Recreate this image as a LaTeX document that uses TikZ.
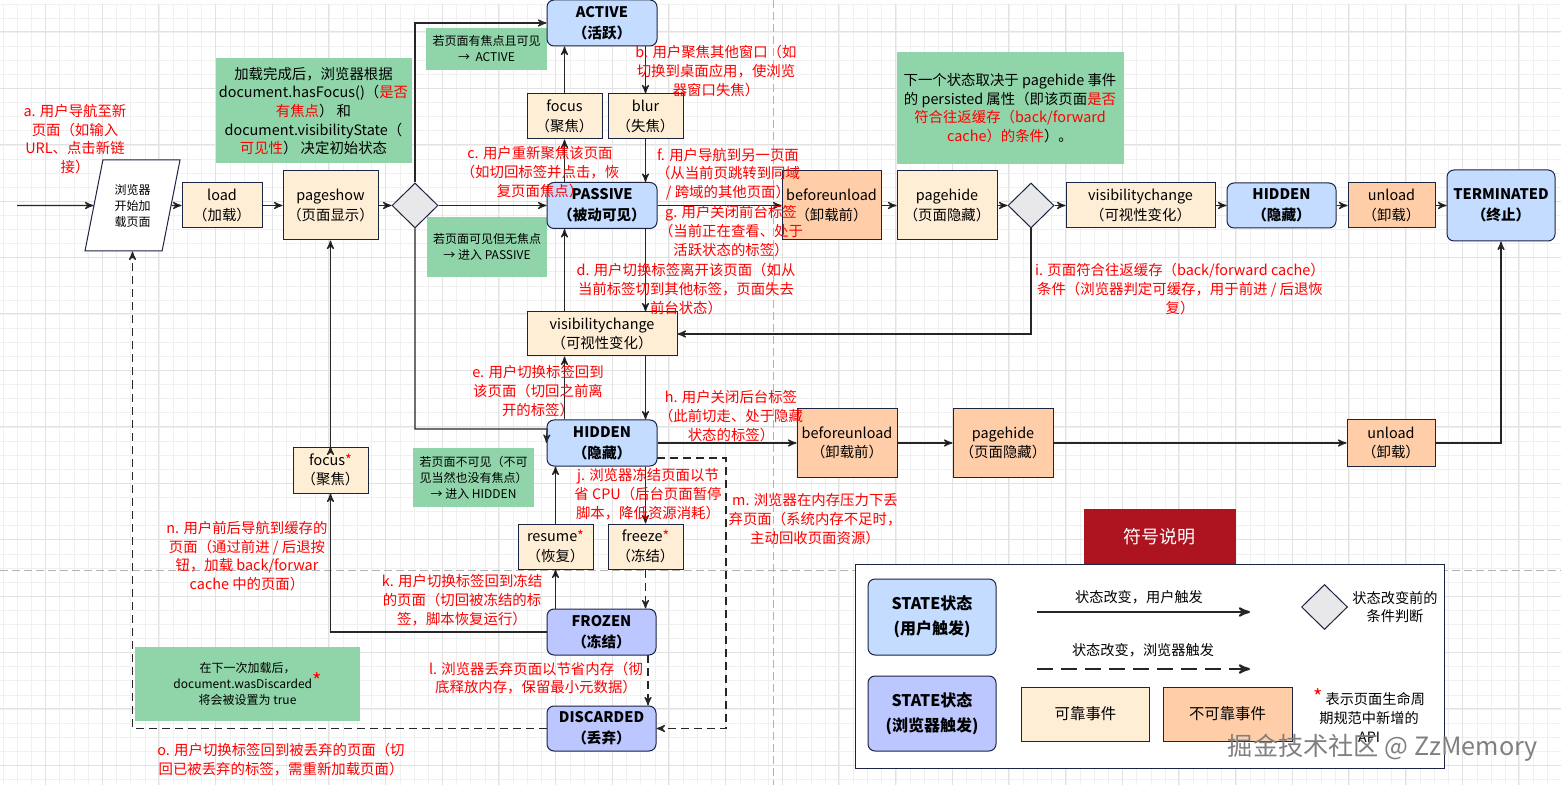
\documentclass[tikz,border=0pt]{standalone}
\usepackage{fontspec}
\setmainfont{Noto Sans CJK SC}
\usetikzlibrary{shapes.geometric}
\usetikzlibrary{positioning}
\usetikzlibrary{arrows}
\definecolor{userblue}{HTML}{C3DCFF}
\definecolor{browserblue}{HTML}{BCC6FF}
\definecolor{safefill}{HTML}{FFEED6}
\definecolor{riskfill}{HTML}{FFCEA8}
\definecolor{notegreen}{HTML}{8FD5A9}
\definecolor{diamondgray}{HTML}{E8E8EA}
\definecolor{edgenavy}{HTML}{1B2440}
\definecolor{titlered}{HTML}{AD1420}
\definecolor{gridmajor}{HTML}{E2E2E2}
\definecolor{gridminor}{HTML}{F0F0F0}
\newcommand{\redstar}{\smash{\color{red}\fontsize{10}{10}\selectfont*}}

\begin{document}
\begin{tikzpicture}[x=0.5pt,y=-0.5pt,>=stealth',every node/.style={inner sep=0pt,align=center},
	box size/.style 2 args={minimum width=#1*0.5pt,minimum height=#2*0.5pt},
	text size/.style={font=\fontsize{7.2}{9.35}\selectfont},
	box text/.style={font=\fontsize{7.2}{9.7}\selectfont},
	small size/.style={font=\fontsize{6}{8}\selectfont},
	key size/.style={font=\fontsize{7.1}{9.3}\selectfont},
	state node/.style={draw=edgenavy,line width=0.5pt,rounded corners=3.5pt,font=\fontsize{7.3}{10.4}\selectfont\bfseries},
	user state/.style={state node,fill=userblue},
	browser state/.style={state node,fill=browserblue},
	event node/.style={draw=edgenavy,line width=0.5pt,fill=safefill,box text},
	risk node/.style={draw=edgenavy,line width=0.5pt,fill=riskfill,box text},
	check node/.style={diamond,aspect=1,draw=edgenavy,line width=0.5pt,fill=diamondgray,box size={46}{45}},
	note node/.style={fill=notegreen,text size},
	red label/.style={text=red,text size},
	flow/.style={->,line width=0.6pt,draw=black!85},
	flow dash/.style={flow,dash pattern=on 4pt off 2.5pt}]

	\useasboundingbox (0,0) rectangle (1561,785);
	\fill[white] (0,0) rectangle (1561,785);

	% grid
	\foreach \x in {0,...,110}
		\draw[gridminor,line width=0.4pt] (3.2+\x*14.17,4) -- (3.2+\x*14.17,785);
	\foreach \y in {0,...,55}
		\draw[gridminor,line width=0.4pt] (0,4+\y*14.1) -- (1561,4+\y*14.1);
	\foreach \x in {0,...,27}
		\draw[gridmajor,line width=0.5pt] (45.5+\x*56.67,4) -- (45.5+\x*56.67,785);
	\foreach \y in {0,...,13}
		\draw[gridmajor,line width=0.5pt] (0,32+\y*56.4) -- (1561,32+\y*56.4);
	\draw[black!30,line width=0.5pt,dash pattern=on 4pt off 2pt] (773,0) -- (773,785);
	\draw[black!30,line width=0.5pt,dash pattern=on 4pt off 2pt] (0,570) -- (1561,570);

	% green notes
	\node[note node,box size={196}{105}] (note load) at (313.5,111) {加载完成后，浏览器根据\\document.hasFocus()（{\color{red}是否}\\{\color{red}有焦点}） 和\\document.visibilityState（\\{\color{red}可见性}） 决定初始状态};
	\node[note node,small size,box size={121}{42}] (note active) at (486.5,49) {若页面有焦点且可见\\→\ \ ACTIVE};
	\node[note node,small size,box size={120}{60}] (note passive) at (487,247) {若页面可见但无焦点\\→ 进入 PASSIVE};
	\node[note node,small size,box size={121}{59}] (note hidden) at (473.5,477.5) {若页面不可见（不可\\见当然也没有焦点）\\→ 进入 HIDDEN};
	\node[note node,small size,box size={225}{74}] (note discard) at (247.5,684) {在下一次加载后，\\document.wasDiscarded\redstar\\将会被设置为 true};
	\node[note node,box size={227}{112}] (note persist) at (1010,108) {下一个状态取决于 pagehide 事件\\的 persisted 属性（即该页面{\color{red}是否}\\{\color{red}符合往返缓存（back/forward}\\{\color{red}cache）的条件}）。};

	% main row
	\coordinate (entry) at (17,205.5);
	\node[trapezium,trapezium left angle=75.8,trapezium right angle=104.2,trapezium stretches=true,draw=edgenavy,line width=0.5pt,fill=white,small size,box size={95}{91}] (start) at (132.5,205.5) {浏览器\\开始加\\载页面};
	\node[event node,box size={80}{45}] (load) at (222,205.5) {load\\（加载）};
	\node[event node,box size={95}{69}] (pageshow) at (330.5,205.5) {pageshow\\（页面显示）};
	\node[check node] (check a) at (415,205.5) {};
	\node[user state,box size={110}{46}] (passive) at (602,205.5) {PASSIVE\\（被动可见）};
	\node[risk node,box size={99}{69}] (unloadfirst) at (831.5,205.5) {beforeunload\\（卸载前）};
	\node[event node,box size={100}{69}] (pagehide) [right of=unloadfirst,node distance=57.75pt] {pagehide\\（页面隐藏）};
	\node[check node] (check b) at (1031,205.5) {};
	\node[event node,box size={149}{45}] (visright) at (1140.5,205.5) {visibilitychange\\（可视性变化）};
	\node[user state,box size={109}{45}] (hiddenright) at (1281.5,205.5) {HIDDEN\\（隐藏）};
	\node[risk node,box size={87}{45}] (unload) at (1391.5,205.5) {unload\\（卸载）};
	\node[user state,box size={108}{71}] (terminated) at (1501,205.5) {TERMINATED\\（终止）};

	% centre column
	\node[user state,box size={110}{46}] (active) at (602,23) {ACTIVE\\（活跃）};
	\node[event node,box size={75}{45}] (focus) at (564.5,116.5) {focus\\（聚焦）};
	\node[event node,box size={75}{45}] (blur) at (645.5,116.5) {blur\\（失焦）};
	\node[event node,box size={150}{44}] (visible) at (602,334) {visibilitychange\\（可视性变化）};
	\node[user state,box size={110}{46}] (hidden) at (602,443) {HIDDEN\\（隐藏）};
	\node[event node,box size={75}{46}] (focusback) at (330.5,470) {focus{\color{red}*}\\（聚焦）};
	\node[risk node,box size={100}{68}] (unloadsecond) at (847,443) {beforeunload\\（卸载前）};
	\node[risk node,box size={100}{68}] (pagehidelow) [right of=unloadsecond,node distance=78pt] {pagehide\\（页面隐藏）};
	\node[risk node,box size={88}{46}] (unloadlow) at (1391,443) {unload\\（卸载）};
	\node[event node,box size={75}{45}] (resume) at (555.5,546.5) {resume{\color{red}*}\\（恢复）};
	\node[event node,box size={75}{45}] (freeze) at (645.5,546.5) {freeze{\color{red}*}\\（冻结）};
	\node[browser state,box size={109}{46}] (frozen) at (601.5,632) {FROZEN\\（冻结）};
	\node[browser state,box size={109}{45}] (discarded) at (601.5,728.5) {DISCARDED\\（丢弃）};

	% connectors
	\path[flow]
	(entry) edge (start)
	(start) edge (load)
	(load) edge (pageshow)
	(pageshow) edge (check a)
	(check a) edge (passive)
	(passive) edge (unloadfirst)
	(unloadfirst) edge (pagehide)
	(pagehide) edge (check b)
	(check b) edge (visright)
	(visright) edge (hiddenright)
	(hiddenright) edge (unload)
	(unload) edge (terminated)
	(hidden) edge (unloadsecond)
	(unloadsecond) edge (pagehidelow)
	(pagehidelow) edge (unloadlow)
	(focus.north) edge (focus.north |- active.south)
	(blur.north |- active.south) edge (blur.north)
	(focus.south |- passive.north) edge (focus.south)
	(blur.south) edge (blur.south |- passive.north)
	(blur.south |- passive.south) edge (blur.south |- visible.north)
	(focus.south |- visible.north) edge (focus.south |- passive.south)
	(blur.south |- visible.south) edge (blur.south |- hidden.north)
	(focus.south |- hidden.north) edge (focus.south |- visible.south)
	(blur.south |- hidden.south) edge (freeze.north)
	(resume.north) edge (resume.north |- hidden.south)
	(resume.south |- frozen.north) edge (resume.south)
	(focusback.north) edge (pageshow.south);
	\coordinate (hiddenbend) at (547,429);
	\coordinate (hiddenstart) at (657,458);
	\coordinate (hiddenturn) at (726,458);
	\coordinate (discardturn) at (726,728.5);
	\coordinate (frozenout) at (648,655);
	\draw[flow] (check a.north) |- (active.west);
	\draw[flow] (check a.south) |- (hiddenbend) -- (hidden.west);
	\draw[flow] (check b.south) |- (visible.east);
	\draw[flow] (unloadlow.east) -| (terminated.south);
	\draw[flow] (frozen.west) -| (focusback.south);
	\draw[flow dash] (freeze.south) -- (freeze.south |- frozen.north);
	\draw[flow dash] (frozenout) -- (frozenout |- discarded.north);
	\draw[flow dash] (hiddenstart) -- (hiddenturn) -- (discardturn) -- (discarded.east);
	\draw[flow dash] (discarded.west) -| (start.south);

	% red labels
	\node[red label] (label a) at (75,139) {a. 用户导航至新\\页面（如输入\\URL、点击新链\\接）};
	\node[red label] (label b) at (716,71) {b. 用户聚焦其他窗口（如\\切换到桌面应用，使浏览\\器窗口失焦）};
	\node[red label] (label c) at (540,172) {c. 用户重新聚焦该页面\\（如切回标签并点击，恢\\复页面焦点）};
	\node[red label] (label d) at (686,289) {d. 用户切换标签离开该页面（如从\\当前标签切到其他标签，页面失去\\前台状态）};
	\node[red label] (label e) at (538,391) {e. 用户切换标签回到\\该页面（切回之前离\\开的标签）};
	\node[red label] (label f) at (728,174) {f. 用户导航到另一页面\\（从当前页跳转到同域\\/ 跨域的其他页面）};
	\node[red label] (label g) at (731,231) {g. 用户关闭前台标签\\（当前正在查看、处于\\活跃状态的标签）};
	\node[red label] (label h) at (731,416) {h. 用户关闭后台标签\\（此前切走、处于隐藏\\状态的标签）};
	\node[red label] (label i) at (1180,289) {i. 页面符合往返缓存（back/forward cache）\\条件（浏览器判定可缓存，用于前进 / 后退恢\\复）};
	\node[red label] (label j) at (648,494) {j. 浏览器冻结页面以节\\省 CPU（后台页面暂停\\脚本，降低资源消耗）};
	\node[red label] (label k) at (462,600) {k. 用户切换标签回到冻结\\的页面（切回被冻结的标\\签，脚本恢复运行）};
	\node[red label] (label l) at (536,678) {l. 浏览器丢弃页面以节省内存（彻\\底释放内存，保留最小元数据）};
	\node[red label] (label m) at (815,519) {m. 浏览器在内存压力下丢\\弃页面（系统内存不足时，\\主动回收页面资源）};
	\node[red label] (label n) at (247,556) {n. 用户前后导航到缓存的\\页面（通过前进 / 后退按\\钮，加载 back/forwar\\cache 中的页面）};
	\node[red label] (label o) at (281,759.5) {o. 用户切换标签回到被丢弃的页面（切\\回已被丢弃的标签，需重新加载页面）};

	% legend
	\node[draw=edgenavy,line width=0.5pt,fill=white,box size={589}{204}] (legend) at (1150,666) {};
	\node[fill=titlered,text=white,font=\fontsize{9}{11}\selectfont,box size={152}{55}] (legend title) at (1159.5,536.5) {符号说明};
	\node[user state,box size={128}{76},font=\fontsize{8}{12.5}\selectfont\bfseries] (key user) at (932,617) {STATE状态\\(用户触发)};
	\node[browser state,box size={128}{75},font=\fontsize{8}{12.5}\selectfont\bfseries] (key browser) at (932,713.5) {STATE状态\\(浏览器触发)};
	\coordinate (key solid a) at (1037,612);
	\coordinate (key solid b) at (1250,612);
	\coordinate (key dash a) at (1037,669);
	\coordinate (key dash b) at (1250,669);
	\draw[flow,line width=1pt] (key solid a) -- (key solid b);
	\draw[flow,line width=1pt,dash pattern=on 8pt off 4pt] (key dash a) -- (key dash b);
	\node[key size] (key solid text) at (1139,597) {状态改变，用户触发};
	\node[key size] (key dash text) at (1143,650) {状态改变，浏览器触发};
	\node[check node] (key check) at (1324.5,607) {};
	\node[key size] (key check text) at (1395,607) {状态改变前的\\条件判断};
	\node[event node,box size={128}{54},font=\fontsize{7.7}{9}\selectfont] (key safe) at (1085.5,714) {可靠事件};
	\node[risk node,box size={129}{54},font=\fontsize{7.7}{9}\selectfont] (key risk) at (1227.5,714) {不可靠事件};
	\node[key size,font=\fontsize{7.1}{9.7}\selectfont] (key star) at (1369,717.5) {\redstar\ 表示页面生命周\\期规范中新增的\\API};

	% watermark
	\node[text=black!50,font=\fontsize{12.6}{14}\selectfont] (watermark) at (1383,748) {掘金技术社区 @ ZzMemory};
\end{tikzpicture}
\end{document}
